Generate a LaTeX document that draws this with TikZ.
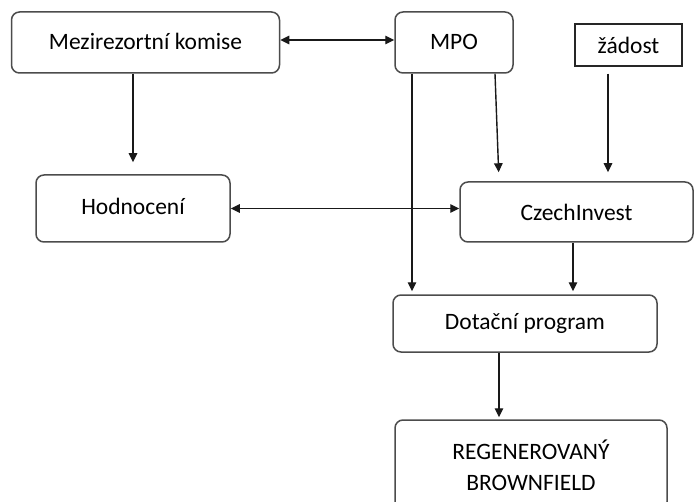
\documentclass[tikz,border=0pt]{standalone}
\usepackage{fontspec}
\setmainfont{Carlito}
\usetikzlibrary{arrows.meta}
\begin{document}
\begin{tikzpicture}[x=1pt,y=-1pt,
  box/.style={draw=black!70, line width=1.5pt, rounded corners=8pt, inner sep=0pt,
    font=\fontsize{23.5}{31}\selectfont, text=black, align=center},
  sbox/.style={box, rounded corners=0pt, draw=black!85},
  arr/.style={line width=1.4pt, draw=black!90, -{Triangle[length=9pt,width=8.5pt]}},
  darr/.style={line width=1.4pt, draw=black!90, {Triangle[length=9pt,width=8.5pt]}-{Triangle[length=9pt,width=8.5pt]}}]
\useasboundingbox (0,0) rectangle (695,502);
\clip (0,0) rectangle (695,502);
\fill[white] (0,0) rectangle (695,502);
\node[box, minimum width=268pt, minimum height=61pt] (mk) at (145.5,42.5) {\raisebox{2pt}{Mezirezortní komise}};
\node[box, minimum width=118pt, minimum height=61pt] (mpo) at (454,42.5) {\raisebox{2pt}{MPO}};
\node[sbox, minimum width=107pt, minimum height=42pt] (zad) at (628.5,45) {žádost};
\node[box, minimum width=194pt, minimum height=67pt] (hod) at (133,208.5) {\raisebox{5pt}{Hodnocení}};
\node[box, minimum width=233pt, minimum height=60pt] (ci) at (576.5,212) {CzechInvest};
\node[box, minimum width=264pt, minimum height=57pt] (dp) at (525,323.5) {\raisebox{2pt}{Dotační program}};
\node[box, minimum width=272pt, minimum height=90pt] (rb) at (531,465) {REGENEROVANÝ\\BROWNFIELD};
% connectors
\draw[darr] ([yshift=2.5pt]mk.east) -- ([yshift=2.5pt]mpo.west);
\draw[arr, shorten >=12pt] (mk.south -| hod.north) -- (hod.north);
\draw[darr] (hod.east) -- (hod.east -| ci.west);
\draw[arr, shorten >=9pt] ([xshift=41pt]mpo.south) -- ([xshift=-77.5pt]ci.north);
\draw[arr, shorten <=7pt, shorten >=9pt] ([xshift=-20.5pt]zad.south) -- ([xshift=31.5pt]ci.north);
\draw[arr, shorten >=3pt] ([xshift=-42pt]mpo.south) -- ([xshift=-113pt]dp.north);
\draw[arr, shorten >=3pt] ([xshift=-3.5pt]ci.south) -- ([xshift=48pt]dp.north);
\draw[arr, shorten >=2pt] ([xshift=-26pt]dp.south) -- ([xshift=-26pt]dp.south |- rb.north);
\end{tikzpicture}
\end{document}
